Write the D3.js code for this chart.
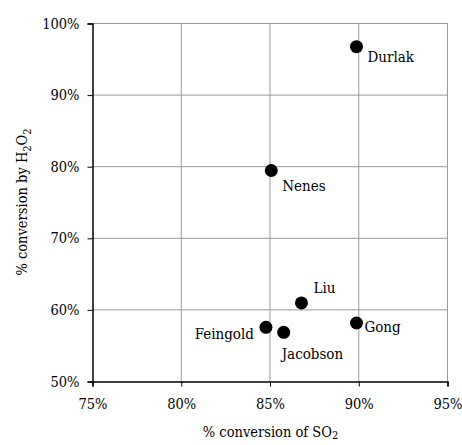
<!DOCTYPE html>
<html>
<head>
    <meta charset="utf-8">
    <title>Conversion scatter</title>
    <style>
        body { margin: 0; background: #fff; }
        text { font-family: "DejaVu Serif Condensed", "DejaVu Serif", serif; fill: #000; }
    </style>
</head>
<body>
    <script src="https://cdnjs.cloudflare.com/ajax/libs/d3/7.9.0/d3.min.js"></script>
    <script>

        // data
        const names = ["Durlak", "Nenes", "Liu", "Feingold", "Jacobson", "Gong"];
        const so2 = [89.9, 85.1, 86.8, 84.8, 85.8, 89.9];
        const h2o2 = [96.7, 79.4, 60.9, 57.5, 56.8, 58.1];
        const xTicks = [75, 80, 85, 90, 95];
        const yTicks = [50, 60, 70, 80, 90, 100];

        const width = 462;
        const height = 445;
        const margin = {top: 23, right: 15, bottom: 64, left: 92};

        const svg = d3.select("body")
            .append("svg")
            .attr("width", width)
            .attr("height", height);

        const x = d3.scaleLinear()
            .domain([75, 95])
            .range([margin.left, width - margin.right]);

        const y = d3.scaleLinear()
            .domain([50, 100])
            .range([height - margin.bottom, margin.top]);

        // grid
        svg.append("g")
            .selectAll("line")
            .data(xTicks.slice(1))
            .join("line")
            .attr("x1", d => x(d) + .5).attr("x2", d => x(d) + .5)
            .attr("y1", y(100)).attr("y2", y(50))
            .attr("stroke", "#999");

        svg.append("g")
            .selectAll("line")
            .data(yTicks.slice(1))
            .join("line")
            .attr("x1", x(75)).attr("x2", x(95))
            .attr("y1", d => y(d) + .5).attr("y2", d => y(d) + .5)
            .attr("stroke", "#999");

        // axes
        const xAxis = svg.append("g")
            .attr("transform", `translate(0.5,${y(50) + .5})`)
            .call(d3.axisBottom(x).tickValues(xTicks).tickSize(5).tickPadding(12).tickFormat(d => d + "%"));

        const yAxis = svg.append("g")
            .attr("transform", `translate(${x(75) + .5},0.5)`)
            .call(d3.axisLeft(y).tickValues(yTicks).tickSize(5).tickPadding(8).tickFormat(d => d + "%"));

        [xAxis, yAxis].forEach(a => {
            a.select(".domain").attr("stroke", "#000").attr("stroke-width", 1.5);
            a.selectAll(".tick line").attr("stroke", "#000");
            a.selectAll("text").attr("font-size", 14.5).attr("font-family", null);
        });

        // points
        const pts = names.map((n, i) => ({name: n, x: so2[i], y: h2o2[i]}));

        svg.append("g")
            .selectAll("circle")
            .data(pts)
            .join("circle")
            .attr("cx", d => x(d.x))
            .attr("cy", d => y(d.y))
            .attr("r", 6.5)
            .attr("fill", "#000");

        // label offsets relative to point
        const offs = {
            Durlak: [11, 15, "start"],
            Nenes: [11, 21, "start"],
            Liu: [12, -10, "start"],
            Feingold: [-12, 12, "end"],
            Jacobson: [-2, 27, "start"],
            Gong: [8, 9, "start"]
        };

        svg.append("g")
            .selectAll("text")
            .data(pts)
            .join("text")
            .attr("x", d => x(d.x) + offs[d.name][0])
            .attr("y", d => y(d.y) + offs[d.name][1])
            .attr("text-anchor", d => offs[d.name][2])
            .attr("font-size", 15)
            .text(d => d.name);

        // axis titles
        const xt = svg.append("text")
            .attr("x", (x(75) + x(95)) / 2 + 1)
            .attr("y", 437)
            .attr("text-anchor", "middle")
            .attr("font-size", 14.5);
        xt.append("tspan").text("% conversion of SO");
        xt.append("tspan").attr("dy", 2).attr("font-size", 11).text("2");

        const yt = svg.append("text")
            .attr("transform", `translate(27,${(y(50) + y(100)) / 2}) rotate(-90)`)
            .attr("text-anchor", "middle")
            .attr("font-size", 14.5);
        yt.append("tspan").text("% conversion by H");
        yt.append("tspan").attr("dy", 4).attr("font-size", 11).text("2");
        yt.append("tspan").attr("dy", -4).text("O");
        yt.append("tspan").attr("dy", 4).attr("font-size", 11).text("2");

    </script>
</body>
</html>
